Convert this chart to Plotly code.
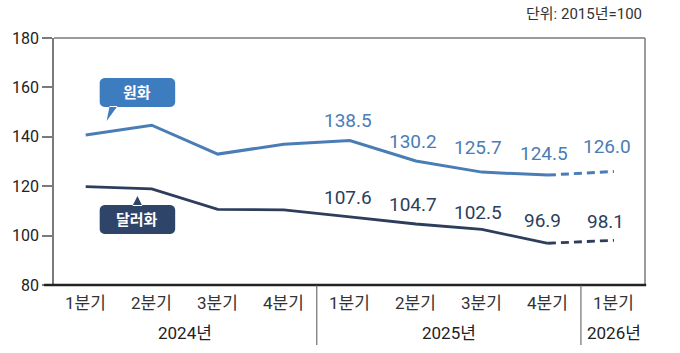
import plotly.graph_objects as go
import math

quarters = ["1분기", "2분기", "3분기", "4분기", "1분기", "2분기", "3분기", "4분기", "1분기"]
years = ["2024년", "2025년", "2026년"]
year_groups = [[0, 1, 2, 3], [4, 5, 6, 7], [8]]
won = [140.7, 144.7, 133.0, 137.0, 138.5, 130.2, 125.7, 124.5, 126.0]
dollar = [119.8, 118.9, 110.6, 110.4, 107.6, 104.7, 102.5, 96.9, 98.1]
labeled_from = 4  # labels shown from 2025 Q1 onward

WON_C = "#4a7db5"
DOL_C = "#2c3e5c"
WON_BOX = "#3d7cbf"
DOL_BOX = "#2e4468"
FONT = "Roboto, Noto Sans CJK KR, sans-serif"

# plot geometry (pixels) for converting callout shapes
L, R, T, B = 50, 645, 38, 285
XMIN, XMAX = -0.48, 8.47
YMIN, YMAX = 80, 180

def px2data(px, py):
    x = XMIN + (px - L) / (R - L) * (XMAX - XMIN)
    y = YMIN + (B - py) / (B - T) * (YMAX - YMIN)
    return x, y

def callout_path(x0, y0, x1, y1, r, tail):
    pts = []
    corners = [(x1 - r, y0 + r, -90, 0), (x1 - r, y1 - r, 0, 90),
               (x0 + r, y1 - r, 90, 180), (x0 + r, y0 + r, 180, 270)]
    for cx, cy, a0, a1 in corners:
        for k in range(7):
            a = math.radians(a0 + (a1 - a0) * k / 6)
            pts.append((cx + r * math.cos(a), cy + r * math.sin(a)))
    rect = "M " + " L ".join("%f,%f" % px2data(*p) for p in pts) + " Z"
    tri = "M " + " L ".join("%f,%f" % px2data(*p) for p in tail) + " Z"
    return rect + " " + tri

xs = list(range(len(quarters)))
fig = go.Figure()
for vals, col, w in [(won, WON_C, 3), (dollar, DOL_C, 2.8)]:
    fig.add_trace(go.Scatter(x=xs[:8], y=vals[:8], mode="lines",
                             line=dict(color=col, width=w), hoverinfo="skip"))
    fig.add_trace(go.Scatter(x=xs[7:], y=vals[7:], mode="lines",
                             line=dict(color=col, width=w, dash="8px,5px"), hoverinfo="skip"))

ann = []
won_shift = [20, 20, 25, 22, 25]
won_xs = [-2, -3, -4, -4, -7]
dol_shift = [19, 19, 17, 23, 19]
dol_xs = [-2, -3, -4, -5, -8]
for k, i in enumerate(range(labeled_from, len(quarters))):
    ann.append(dict(x=i, y=won[i], text="%.1f" % won[i], showarrow=False, yshift=won_shift[k],
                    xshift=won_xs[k], font=dict(family=FONT, size=19, color=WON_C)))
    ann.append(dict(x=i, y=dollar[i], text="%.1f" % dollar[i], showarrow=False, yshift=dol_shift[k],
                    xshift=dol_xs[k], font=dict(family=FONT, size=19, color=DOL_C)))

for q_i, q in enumerate(quarters):
    ann.append(dict(x=q_i, y=0, yref="paper", yanchor="middle", yshift=-18, text=q, showarrow=False,
                    font=dict(family=FONT, size=17, color="#333")))
for yr, grp in zip(years, year_groups):
    ann.append(dict(x=sum(grp) / len(grp), y=0, yref="paper", yanchor="middle", yshift=-48,
                    text=yr, showarrow=False, font=dict(family=FONT, size=17, color="#222")))

ann.append(dict(x=1, xref="paper", xanchor="right", y=1, yref="paper", yanchor="middle", yshift=24,
                xshift=-1, text="단위: 2015년=100", showarrow=False,
                font=dict(family=FONT, size=15, color="#333")))

cx, cy = px2data(134, 92.5)
ann.append(dict(x=cx, y=cy, text="<b>원화</b>", showarrow=False,
                font=dict(family=FONT, size=15, color="white")))
cx, cy = px2data(134, 219.5)
ann.append(dict(x=cx, y=cy, text="<b>달러화</b>", showarrow=False,
                font=dict(family=FONT, size=15, color="white")))

shapes = []
shapes.append(dict(type="path", xref="x", yref="y", line=dict(width=0), fillcolor=WON_BOX,
                   path=callout_path(96, 78, 172, 107, 5, [(106, 106), (114, 106), (103, 121)])))
shapes.append(dict(type="path", xref="x", yref="y", line=dict(width=0), fillcolor=DOL_BOX,
                   path=callout_path(96, 205, 172, 234, 5, [(129, 206), (139, 206), (134, 196)])))
shapes.append(dict(type="line", xref="paper", yref="paper", x0=0, x1=1, y0=1, y1=1,
                   line=dict(color="#7a7a7a", width=1.5)))
shapes.append(dict(type="line", xref="paper", yref="paper", x0=1, x1=1, y0=0, y1=1,
                   line=dict(color="#7a7a7a", width=1.5)))
shapes.append(dict(type="line", xref="paper", yref="paper", x0=-10 / 595, x1=1.002, y0=0, y1=0,
                   line=dict(color="#222", width=2.5)))
for d in [3.5, 7.5]:
    shapes.append(dict(type="line", xref="x", yref="paper", x0=d, x1=d, y0=0, y1=-60 / 247,
                       line=dict(color="#555", width=1)))

fig.update_layout(
    width=680, height=353, margin=dict(l=L, r=680 - R, t=T, b=353 - B),
    paper_bgcolor="white", plot_bgcolor="white", showlegend=False,
    annotations=ann, shapes=shapes,
    xaxis=dict(range=[XMIN, XMAX], showticklabels=False, showgrid=False, zeroline=False,
               showline=False, ticks=""),
    yaxis=dict(range=[YMIN, YMAX], tickvals=[80, 100, 120, 140, 160, 180], showgrid=False,
               zeroline=False, showline=True, linecolor="#7a7a7a", linewidth=1.5,
               ticks="outside", ticklen=10, tickcolor="#7a7a7a", tickwidth=1.5,
               tickfont=dict(family=FONT, size=16, color="#222")),
)
fig.write_html("out.html")
